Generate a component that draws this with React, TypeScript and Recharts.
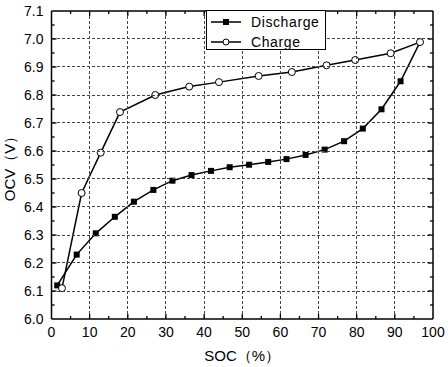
import { LineChart, Line, XAxis, YAxis, Legend, Label } from "recharts";

// values
const dischargeSoc = [1.5, 6.6, 11.6, 16.6, 21.6, 26.7, 31.7, 36.7, 41.8, 46.7, 51.8, 56.8, 61.6, 66.6, 71.6, 76.7, 81.6, 86.5, 91.5, 96.6];
const dischargeOcv = [6.12, 6.23, 6.306, 6.365, 6.419, 6.461, 6.494, 6.514, 6.529, 6.542, 6.551, 6.561, 6.571, 6.586, 6.605, 6.635, 6.68, 6.749, 6.849, 6.989];

const chargeSoc = [2.75, 7.9, 12.9, 17.95, 27.2, 36.1, 43.9, 54.3, 63.0, 72.1, 79.6, 88.9, 96.6];
const chargeOcv = [6.11, 6.45, 6.594, 6.739, 6.8, 6.83, 6.846, 6.868, 6.882, 6.906, 6.925, 6.949, 6.989];

// major + minor ticks (labels only on the majors)
const xTicks = [0, 5, 10, 15, 20, 25, 30, 35, 40, 45, 50, 55, 60, 65, 70, 75, 80, 85, 90, 95, 100];
const yTicks = [6.0, 6.05, 6.1, 6.15, 6.2, 6.25, 6.3, 6.35, 6.4, 6.45, 6.5, 6.55, 6.6, 6.65, 6.7, 6.75, 6.8, 6.85, 6.9, 6.95, 7.0, 7.05, 7.1];

const dischargeData = dischargeSoc.map((x, i) => ({ x, y: dischargeOcv[i] }));
const chargeData = chargeSoc.map((x, i) => ({ x, y: chargeOcv[i] }));

const W = 448;
const H = 367;
const MARGIN = { top: 11, right: 15, bottom: 8, left: 0 };
const Y_AXIS_W = 51.5;
const X_AXIS_H = 40;
const TICK_GAP = 8;
const PLOT_LEFT = MARGIN.left + Y_AXIS_W;
const PLOT_RIGHT = W - MARGIN.right;
const PLOT_TOP = MARGIN.top;
const PLOT_BOTTOM = H - MARGIN.bottom - X_AXIS_H;

const FONT = "'Liberation Sans', Arial, sans-serif";
const GRID = { stroke: "#444", strokeWidth: 1, strokeDasharray: "3 2", shapeRendering: "crispEdges" };
const frame = { stroke: "#000", strokeWidth: 1.5 };

// snap a hairline to the pixel grid so it stays dark
const px = (v: number) => Math.round(v - 0.5) + 0.5;

const XTick = (props: any) => {
  const { x, payload } = props;
  const v = payload.value;
  const major = Math.round(v) % 10 === 0;
  const len = major ? 5 : 3;
  const edge = v === 0 || v === 100;
  const gx = px(x);
  return (
    <g>
      {major && !edge && <line x1={gx} x2={gx} y1={PLOT_TOP} y2={PLOT_BOTTOM} {...GRID} />}
      {!edge && <line x1={x} x2={x} y1={PLOT_BOTTOM} y2={PLOT_BOTTOM - len} stroke="#000" strokeWidth={1.3} />}
      {!edge && <line x1={x} x2={x} y1={PLOT_TOP} y2={PLOT_TOP + len} stroke="#000" strokeWidth={1.3} />}
      {major && (
        <text x={x} y={PLOT_BOTTOM + TICK_GAP} dy="0.71em" textAnchor="middle" fontSize={14} fontFamily={FONT} fill="#000">
          {v}
        </text>
      )}
    </g>
  );
};

const YTick = (props: any) => {
  const { y, payload } = props;
  const v = payload.value;
  const major = Math.round(v * 100) % 10 === 0;
  const len = major ? 5 : 3;
  const edge = v === 6.0 || v === 7.1;
  const gy = px(y);
  return (
    <g>
      {major && !edge && <line x1={PLOT_LEFT} x2={PLOT_RIGHT} y1={gy} y2={gy} {...GRID} />}
      {!edge && <line x1={PLOT_LEFT} x2={PLOT_LEFT + len} y1={y} y2={y} stroke="#000" strokeWidth={1.3} />}
      {!edge && <line x1={PLOT_RIGHT} x2={PLOT_RIGHT - len} y1={y} y2={y} stroke="#000" strokeWidth={1.3} />}
      {major && (
        <text x={PLOT_LEFT - TICK_GAP} y={y} dy="0.355em" textAnchor="end" fontSize={14} fontFamily={FONT} fill="#000">
          {v.toFixed(1)}
        </text>
      )}
    </g>
  );
};

const SquareDot = (props: any) => {
  const { cx, cy, index } = props;
  // the last discharge point sits under the charge circle
  if (index === dischargeData.length - 1) return <g key={`sq-${index}`} />;
  return <rect key={`sq-${index}`} x={cx - 3} y={cy - 3} width={6} height={6} fill="#000" />;
};

const renderLegend = () => (
  <svg width={120} height={40} style={{ display: "block" }}>
    <rect x={0.5} y={0.5} width={119} height={39} fill="#fff" stroke="#000" strokeWidth={1} />
    <line x1={5} x2={35} y1={12} y2={12} stroke="#000" strokeWidth={1.5} />
    <rect x={17} y={9} width={6} height={6} fill="#000" />
    <text x={45} y={12} dominantBaseline="central" fontSize={14} fontFamily={FONT} letterSpacing={0.6}>
      Discharge
    </text>
    <line x1={5} x2={35} y1={32} y2={32} stroke="#000" strokeWidth={1.5} />
    <circle cx={20} cy={32} r={3} fill="#fff" stroke="#000" strokeWidth={1} />
    <text x={45} y={32} dominantBaseline="central" fontSize={14} fontFamily={FONT} letterSpacing={0.6}>
      Charge
    </text>
  </svg>
);

export default function App() {
  return (
    <div style={{ width: W, height: H, background: "#fff" }}>
      <style>{"body{margin:0}"}</style>
      <LineChart width={W} height={H} margin={MARGIN}>
        <XAxis
          dataKey="x"
          type="number"
          domain={[0, 100]}
          ticks={xTicks}
          interval={0}
          height={X_AXIS_H}
          tickSize={0}
          tickLine={false}
          axisLine={frame}
          tick={XTick}
        >
          <Label
            value="SOC（%）"
            position="center"
            dy={16.5}
            style={{ fontSize: 15, fill: "#000", fontFamily: FONT }}
          />
        </XAxis>
        <YAxis
          type="number"
          domain={[6.0, 7.1]}
          ticks={yTicks}
          interval={0}
          width={Y_AXIS_W}
          tickSize={0}
          tickLine={false}
          axisLine={frame}
          tick={YTick}
        >
          <Label
            value="OCV（V）"
            position="center"
            angle={-90}
            dx={-16}
            style={{ fontSize: 15, fill: "#000", fontFamily: FONT, textAnchor: "middle" }}
          />
        </YAxis>

        {/* top and right frame lines */}
        <XAxis xAxisId="top" orientation="top" mirror type="number" domain={[0, 100]} allowDataOverflow height={1} tick={false} tickLine={false} axisLine={frame} />
        <YAxis yAxisId="right" orientation="right" mirror type="number" domain={[6.0, 7.1]} allowDataOverflow width={1} tick={false} tickLine={false} axisLine={frame} />

        <Legend
          content={renderLegend}
          layout="horizontal"
          verticalAlign="middle"
          align="center"
          wrapperStyle={{ left: 206, top: 10, width: 120, height: 40 }}
        />

        <Line
          data={dischargeData}
          dataKey="y"
          name="Discharge"
          type="linear"
          stroke="#000"
          strokeWidth={1.5}
          dot={SquareDot}
          activeDot={false}
          isAnimationActive={false}
        />
        <Line
          data={chargeData}
          dataKey="y"
          name="Charge"
          type="linear"
          stroke="#000"
          strokeWidth={1.5}
          dot={{ r: 3.5, fill: "#fff", stroke: "#000", strokeWidth: 1 }}
          activeDot={false}
          isAnimationActive={false}
        />
      </LineChart>
    </div>
  );
}
